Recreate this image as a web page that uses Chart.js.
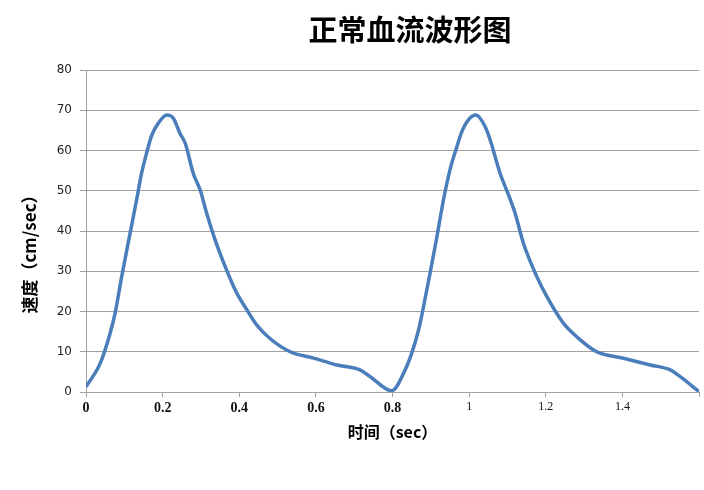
<!DOCTYPE html>
<html>
<head>
<meta charset="utf-8">
<script src="https://cdn.jsdelivr.net/npm/chart.js@4.4.0/dist/chart.umd.min.js"></script>
<style>
  html, body { margin: 0; padding: 0; background: #fff; }
  #wrap { width: 704px; height: 490px; }
</style>
</head>
<body>
<div id="wrap"><canvas id="flowChart" width="704" height="490"></canvas></div>
<script>
const CHART_TITLE = '正常血流波形图';
const X_TITLE = '时间（sec）';
const Y_TITLE = '速度（cm/sec）';

// time (sec) and speed (cm/sec)
const timeValues = [
  0, 0.037, 0.063, 0.076, 0.093, 0.115, 0.132, 0.145, 0.158, 0.172,
  0.189, 0.211, 0.228, 0.245, 0.259, 0.28, 0.298, 0.315, 0.337, 0.367,
  0.394, 0.42, 0.446, 0.48, 0.533, 0.594, 0.655, 0.715, 0.742, 0.798,
  0.833, 0.85, 0.868, 0.881, 0.898, 0.916, 0.933, 0.95, 0.968, 0.981,
  0.998, 1.018, 1.042, 1.055, 1.081, 1.103, 1.12, 1.142, 1.177, 1.203,
  1.246, 1.281, 1.333, 1.403, 1.473, 1.525, 1.551, 1.6
];
const speedValues = [
  1.3, 7.1, 14.6, 19.6, 28.6, 39.4, 47.7, 54.3, 59.3, 63.9,
  66.8, 68.8, 68.0, 64.3, 61.8, 54.3, 50.2, 44.4, 37.8, 30.3,
  24.5, 20.4, 16.6, 13.3, 10.0, 8.4, 6.7, 5.5, 3.8, 0.3,
  5.5, 9.6, 15.4, 21.2, 29.5, 38.6, 47.7, 55.2, 60.9, 64.7,
  67.6, 68.8, 65.9, 62.6, 54.3, 48.9, 44.4, 36.9, 28.6, 23.7,
  17.1, 13.7, 10.0, 8.4, 6.7, 5.5, 3.8, 0.1
];

const xTickValues = [0, 0.2, 0.4, 0.6, 0.8, 1.0, 1.2, 1.4, 1.6];
const xTickLabels = ['0', '0.2', '0.4', '0.6', '0.8', '1', '1.2', '1.4', ''];
const yTickValues = [0, 10, 20, 30, 40, 50, 60, 70, 80];

const GRID = '#a0a0a0';

// chart title and y title are both a little off-centre in the original,
// so draw them by hand
const titlePlugin = {
  id: 'offsetTitles',
  afterDraw(chart) {
    const ctx = chart.ctx;
    const area = chart.chartArea;
    ctx.save();
    ctx.fillStyle = '#000';
    ctx.textAlign = 'center';
    ctx.textBaseline = 'middle';
    ctx.font = 'bold 29px "Noto Sans CJK SC"';
    ctx.fillText(CHART_TITLE, area.left + 324, 30);

    ctx.translate(30, area.bottom - 142);
    ctx.rotate(-Math.PI / 2);
    ctx.font = 'bold 17px "Noto Sans CJK SC"';
    ctx.fillText(Y_TITLE, 0, 0);
    ctx.restore();
  }
};

const points = timeValues.map((t, i) => ({ x: t, y: speedValues[i] }));

new Chart(document.getElementById('flowChart'), {
  type: 'line',
  data: {
    datasets: [{
      data: points,
      borderColor: '#4a7ebb',
      borderWidth: 3.5,
      pointRadius: 0,
      cubicInterpolationMode: 'monotone',
      fill: false,
    }]
  },
  options: {
    responsive: false,
    animation: false,
    layout: { padding: { left: 0, right: 5, top: 70, bottom: 43 } },
    plugins: {
      legend: { display: false },
      tooltip: { enabled: false },
      title: { display: false },
    },
    scales: {
      x: {
        type: 'linear',
        min: 0,
        max: 1.6,
        afterBuildTicks: s => { s.ticks = xTickValues.map(v => ({ value: v })); },
        afterFit: s => { s.height = 55; },
        border: { color: GRID, width: 1 },
        grid: { drawOnChartArea: false, drawTicks: true, tickLength: 5, color: GRID },
        ticks: {
          color: '#111',
          padding: 3,
          maxRotation: 0,
          autoSkip: false,
          font: c => c.index < 5
            ? { family: '"Liberation Serif"', size: 14, weight: 'bold' }
            : { family: '"Liberation Serif"', size: 12 },
          callback: (v, i) => xTickLabels[i],
        },
        title: {
          display: true,
          text: X_TITLE,
          color: '#000',
          font: { family: '"Noto Sans CJK SC"', size: 16, weight: 'bold' },
          padding: { top: 0, bottom: 5 },
        },
      },
      y: {
        min: 0,
        max: 80,
        afterBuildTicks: s => { s.ticks = yTickValues.map(v => ({ value: v })); },
        afterFit: s => { s.width = 86; },
        border: { color: GRID, width: 1 },
        grid: { color: GRID, tickLength: 6, lineWidth: 1 },
        ticks: {
          color: '#222',
          padding: 8,
          font: { family: '"DejaVu Sans"', size: 12 },
        },
      }
    }
  },
  plugins: [titlePlugin]
});
</script>
</body>
</html>
